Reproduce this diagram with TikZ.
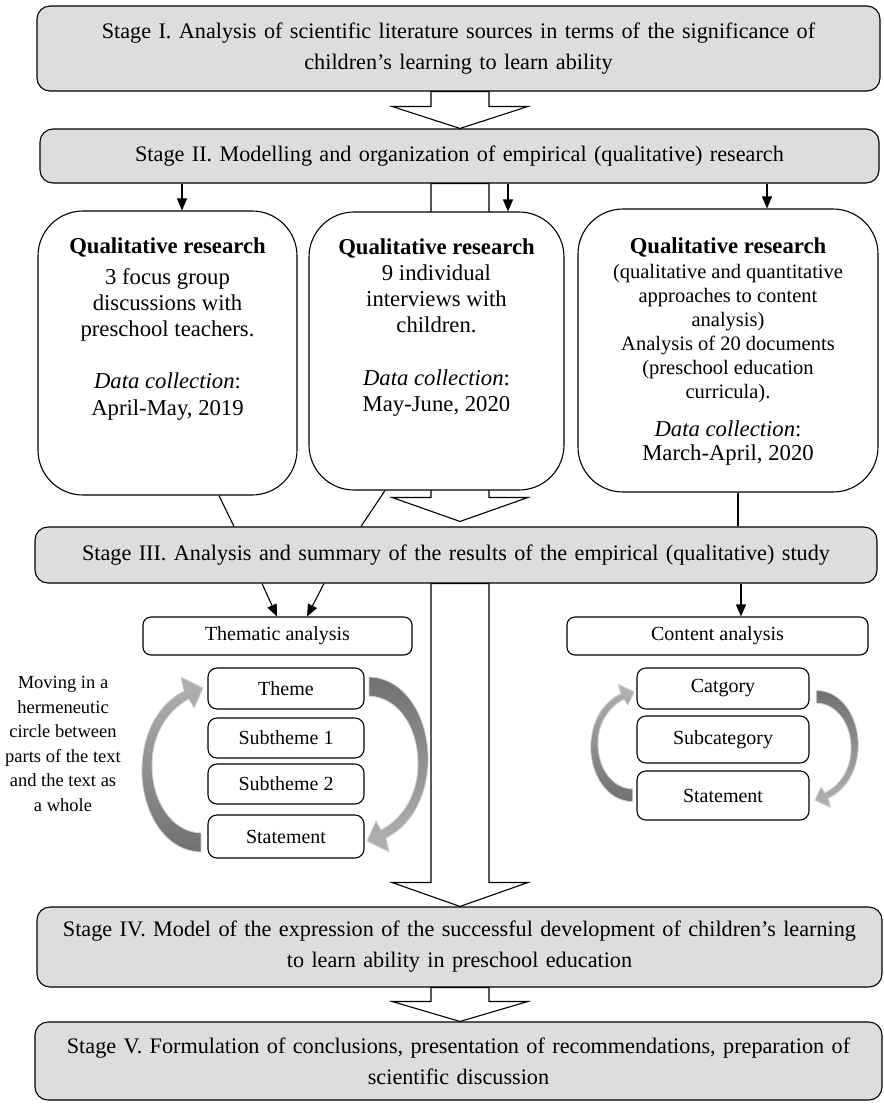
\documentclass[tikz,border=0pt]{standalone}
\usepackage{fontspec}
\setmainfont{Liberation Serif}
\usetikzlibrary{arrows.meta,calc}

\definecolor{stagegray}{RGB}{220,221,222}

% open block arrow: #1 top of the shaft, #2 tip, #3 head length
\newcommand\hollowarrow[3]{%
  \draw[hollow] ($(#1)+(-29,0)$) -- ($(#2)+(-29,-#3)$) -- ($(#2)+(-68,-#3)$)
    -- (#2) -- ($(#2)+(68,-#3)$) -- ($(#2)+(29,-#3)$) -- ($(#1)+(29,0)$) -- cycle;}

\tikzset{
  stage/.style={draw, line width=1.1pt, fill=stagegray, rounded corners=13pt,
    inner sep=0pt, align=center, font=\fontsize{22.2pt}{31pt}\selectfont},
  qbox/.style={draw, line width=1.1pt, fill=white, rounded corners=45pt, inner sep=0pt},
  labelbox/.style={draw, line width=1.1pt, fill=white, rounded corners=8pt,
    inner sep=0pt, font=\fontsize{20pt}{24pt}\selectfont},
  itembox/.style={draw, line width=1.1pt, fill=white, rounded corners=9pt,
    inner sep=0pt, font=\fontsize{20pt}{24pt}\selectfont},
  plainline/.style={line width=1.1pt},
  feed/.style={line width=1.1pt, -{Triangle[length=12pt,width=10pt]}},
  hollow/.style={draw, line width=1.1pt, fill=white, line join=miter},
  turnlight/.style={draw=black!18, line width=0.8pt, top color=black!30, bottom color=black!56},
  turndark/.style={draw=black!18, line width=0.8pt, top color=black!56, bottom color=black!30},
  turnarrow/.pic={
    \path[pic actions] (1,10) .. controls (-38,9) and (-60,-35) .. (-58,-77)
      .. controls (-56,-115) and (-38,-140) .. (-16,-151) -- (-19,-165) -- (3,-154)
      -- (-6,-134) -- (-11,-143) .. controls (-32,-132) and (-48,-108) .. (-48,-77)
      .. controls (-48,-40) and (-28,-10) .. (1,-9) -- cycle;
  },
}

\begin{document}
\begin{tikzpicture}[x=1pt,y=-1pt]
\useasboundingbox[fill=white] (0,0) rectangle (884,1104);

% stages
\node[stage, minimum width=843pt, minimum height=85pt, text width=830pt] (s1) at (458.5,48.5)
  {Stage I. Analysis of scientific literature sources in terms of the significance of\\children’s learning to learn ability};
\node[stage, minimum width=839pt, minimum height=54pt, text width=830pt] (s2) at (459.5,156)
  {Stage II. Modelling and organization of empirical (qualitative) research};
\node[stage, minimum width=842pt, minimum height=56pt, text width=830pt] (s3) at (456,555)
  {Stage III. Analysis and summary of the results of the empirical (qualitative) study};

% open arrows between stages (the second one runs behind the middle box)
\hollowarrow{460,0 |- s1.south}{460,0 |- s2.north}{22}
\coordinate (t3) at ($(460,0 |- s3.north)+(0,-5)$);
\hollowarrow{460,0 |- s2.south}{t3}{24}

% research boxes
\node[qbox, minimum width=259pt, minimum height=284pt] (q1) at (167.5,353)
  {\begin{minipage}[c][231pt][t]{250pt}\centering\fontsize{22.7pt}{26pt}\selectfont
   \textbf{Qualitative research}\\[5pt]
   3 focus group\\ discussions with\\ preschool teachers.\\[26pt]
   \textit{Data collection}:\\[1pt] April-May, 2019
   \end{minipage}};
\node[qbox, minimum width=255pt, minimum height=278pt] (q2) at (436.5,351)
  {\begin{minipage}[c][225pt][t]{246pt}\centering\fontsize{22.7pt}{26pt}\selectfont
   \textbf{Qualitative research}\\
   9 individual\\ interviews with\\ children.\\[27pt]
   \textit{Data collection}:\\ May-June, 2020
   \end{minipage}};
\node[qbox, minimum width=300pt, minimum height=283pt] (q3) at (728,350.5)
  {\begin{minipage}[c][226pt][t]{292pt}\centering\fontsize{22.7pt}{26pt}\selectfont
   \textbf{Qualitative research}\par
   \vspace{1pt}
   {\fontsize{20.5pt}{24pt}\selectfont (qualitative and quantitative\\ approaches to content\\
   analysis)\\ Analysis of 20 documents\\ (preschool education\\ curricula).\par}
   \vspace{14pt}
   {\fontsize{22.7pt}{24pt}\selectfont \textit{Data collection}:\\ March-April, 2020\par}
   \end{minipage}};

\draw[feed] (182,0 |- s2.south) -- (182,0 |- q1.north);
\draw[feed] (508,0 |- s2.south) -- (508,0 |- q2.north);
\draw[feed] (767,0 |- s2.south) -- (767,0 |- q3.north);
\draw[plainline] (219,0 |- q1.south) -- (234,0 |- s3.north);
\draw[plainline] (385,0 |- q2.south) -- (361,0 |- s3.north);
\draw[plainline] (738,0 |- q3.south) -- (738,0 |- s3.north);

% analysis branches
\node[labelbox, minimum width=269pt, minimum height=38pt] (ta) at (277.5,636) {Thematic analysis};
\node[labelbox, minimum width=301pt, minimum height=38pt] (ca) at (717.5,636) {Content analysis};
\draw[feed] (262,0 |- s3.south) -- (277,0 |- ta.north);
\draw[feed] (324,0 |- s3.south) -- (307,0 |- ta.north);
\draw[feed] (741,0 |- s3.south) -- (741,0 |- ca.north);

\node[itembox, minimum width=156pt, minimum height=41pt] (th) at (286,688.5) {Theme};
\node[itembox, minimum width=156pt, minimum height=40pt] (st1) at (286,738) {Subtheme 1};
\node[itembox, minimum width=156pt, minimum height=40pt] (st2) at (286,784) {Subtheme 2};
\node[itembox, minimum width=156pt, minimum height=43pt] (ts) at (286,836.5) {Statement};

\node[itembox, minimum width=172pt, minimum height=41pt] (cc) at (723,688.5) {Catgory};
\node[itembox, minimum width=172pt, minimum height=47pt] (cs) at (723,739.5) {Subcategory};
\node[itembox, minimum width=172pt, minimum height=49pt] (cst) at (723,795.5) {Statement};

\node[font=\fontsize{18.5pt}{24.5pt}\selectfont, align=center] (side) at (63,744)
  {Moving in a\\hermeneutic\\circle between\\parts of the text\\and the text as\\a whole};

% hermeneutic circle arrows
\pic[turnlight] at (200,842) {turnarrow};
\pic[turndark, rotate=180] at (370,687) {turnarrow};
\pic[turnlight, xscale=0.71, yscale=0.67] at (632,795) {turnarrow};
\pic[turndark, rotate=180, xscale=0.71, yscale=0.67] at (817,697) {turnarrow};

% final stages
\node[stage, minimum width=845pt, minimum height=80pt, text width=835pt] (s4) at (459.5,947)
  {Stage IV. Model of the expression of the successful development of children’s learning\\to learn ability in preschool education};
\node[stage, minimum width=847pt, minimum height=78pt, text width=835pt] (s5) at (458.5,1061)
  {Stage V. Formulation of conclusions, presentation of recommendations, preparation of\\scientific discussion};

\hollowarrow{460,0 |- s3.south}{460,0 |- s4.north}{24}
\hollowarrow{460,0 |- s4.south}{460,0 |- s5.north}{20}
\end{tikzpicture}
\end{document}
